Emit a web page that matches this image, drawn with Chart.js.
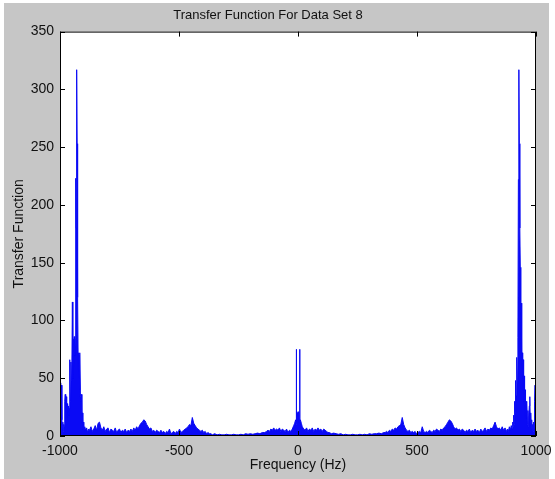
<!DOCTYPE html>
<html>
<head>
<meta charset="utf-8">
<script src="https://cdn.jsdelivr.net/npm/chart.js@4/dist/chart.umd.min.js"></script>
<style>
  html, body { margin: 0; padding: 0; background: #fff; }
  canvas { display: block; }
</style>
</head>
<body>
<canvas id="grafico" width="555" height="479"></canvas>
<script>
// datos: [frecuencia Hz, magnitud]
const picoIzq = [
  [-1000,42],[-998,46],[-996,25],[-994,44],[-992,14],[-990,6],[-988,12],[-986,4],
  [-984,10],[-982,8],[-980,30],[-978,36],[-976,20],[-974,34],[-972,15],[-970,28],
  [-968,22],[-966,26],[-964,18],[-962,24],[-960,40],[-958,66],[-956,30],[-954,64],
  [-952,48],[-950,62],[-948,116],[-946,50],[-944,84],[-942,60],[-940,86],[-938,70],
  [-936,84],[-934,223],[-932,180],[-930,317],[-928,253],[-926,120],[-924,72],[-922,55],
  [-920,70],[-918,40],[-916,72],[-914,34],[-912,30],[-910,36],[-908,12],[-906,20],
  [-904,6],[-902,12],[-900,4],[-896,8],[-892,5],[-888,7],[-884,3],[-880,6]
];
const pisoIzq = [
  [-876,5],[-870,8],[-864,4],[-858,6],[-852,9],[-846,5],[-840,11],[-834,12],[-828,7],
  [-822,5],[-816,8],[-810,4],[-804,6],[-798,7],[-792,3],[-786,6],[-780,5],[-774,4],
  [-768,7],[-762,3],[-756,5],[-750,6],[-744,3],[-738,5],[-732,4],[-726,6],[-720,3],
  [-714,5],[-708,4],[-702,6],[-696,4],[-690,7],[-684,5],[-678,8],[-672,6],[-666,9],
  [-660,11],[-654,12],[-648,14],[-642,13],[-636,10],[-630,8],[-624,6],[-618,7],[-612,4],
  [-606,5],[-600,3],[-594,5],[-588,4],[-582,3],[-576,5],[-570,3],[-564,4],[-558,2],
  [-552,4],[-546,3],[-540,6],[-534,2],[-528,3],[-522,4],[-516,2],[-510,4],[-504,3],
  [-498,6],[-492,3],[-486,4],[-480,5],[-474,6],[-468,7],[-462,8],[-456,10],[-450,9],
  [-444,16],[-438,11],[-432,9],[-426,7],[-420,6],[-414,5],[-408,4],[-402,5],[-396,3],
  [-390,4],[-384,2],[-378,3],[-372,2],[-366,2],[-360,1],[-350,2],[-340,1],[-330,1.5],
  [-320,1],[-310,1],[-300,1.5],[-290,1],[-280,1],[-270,1.5],[-260,1],[-250,1],
  [-240,1.5],[-230,1],[-220,2],[-210,1.5],[-200,2],[-190,1.5],[-180,2],[-170,2.5],
  [-160,2],[-150,3],[-140,3],[-132,4],[-126,5],[-120,4],[-114,6],[-108,5],[-102,7],
  [-96,5],[-90,6],[-84,5],[-78,7],[-72,4],[-66,6],[-60,5],[-54,4],[-48,6],[-42,3],
  [-36,5],[-30,4],[-24,6],[-18,9]
];
const centro = [
  [-14,11],[-10,14],[-8,10],[-7,75],[-6,12],[-4,20],[-2,17],[0,21],
  [2,17],[4,20],[6,12],[7,75],[8,10],[10,14],[14,11]
];
const pisoDer = [
  [18,8],[24,6],[30,5],[36,7],[42,4],[48,6],[54,5],[60,7],[66,4],[72,6],[78,5],
  [84,7],[90,5],[96,6],[102,4],[108,6],[114,5],[120,4],[126,3],[132,3],[140,2],
  [150,2.5],[160,2],[170,1.5],[180,2],[190,1],[200,1.5],[210,1],[220,1],[230,1.5],
  [240,1],[250,1],[260,1.5],[270,1],[280,1.5],[290,1],[300,2],[310,1.5],[320,2],
  [330,2],[340,2.5],[350,2],[360,3],[366,3],[372,4],[378,3],[384,5],[390,4],[396,6],
  [402,5],[408,7],[414,6],[420,8],[426,9],[432,10],[438,16],[444,10],[450,7],[456,5],
  [462,4],[468,5],[474,3],[480,4],[486,3],[492,4],[498,2],[504,3],[510,4],[516,3],
  [522,8],[528,4],[534,3],[540,4],[546,3],[552,5],[558,4],[564,3],[570,5],[576,4],
  [582,6],[588,5],[594,4],[600,6],[606,5],[612,7],[618,8],[624,10],[630,12],[636,14],
  [642,13],[648,11],[654,8],[660,6],[666,7],[672,5],[678,6],[684,4],[690,6],[696,5],
  [702,3],[708,5],[714,4],[720,6],[726,3],[732,5],[738,4],[744,6],[750,4],[756,5],
  [762,3],[768,6],[774,4],[780,5],[786,7],[792,4],[798,6],[804,5],[810,7],[816,6],
  [822,9],[828,12],[834,8],[840,6],[846,7],[852,5],[858,8],[864,5],[870,7],[876,4]
];
const picoDer = [
  [880,6],[884,4],[888,8],[892,5],[896,9],[900,6],[902,12],[904,8],[906,18],[908,10],
  [910,30],[912,20],[914,48],[916,35],[918,50],[920,68],[922,45],[924,85],[926,222],
  [928,317],[930,253],[932,180],[934,146],[936,80],[938,115],[940,60],[942,72],[944,50],
  [946,66],[948,30],[950,52],[952,25],[954,40],[956,15],[958,30],[960,20],[962,28],
  [964,10],[966,22],[968,8],[970,18],[972,26],[974,34],[976,12],[978,20],[980,6],
  [982,14],[984,5],[986,10],[988,4],[990,12],[992,6],[994,30],[996,44],[998,20],[1000,40]
];
const ticksX = [-1000, -500, 0, 500, 1000];
const ticksY = [0, 50, 100, 150, 200, 250, 300, 350];

const puntos = [...picoIzq, ...pisoIzq, ...centro, ...pisoDer, ...picoDer]
  .map(p => ({ x: p[0], y: p[1] }));

const fuente = "Arial, 'Liberation Sans', sans-serif";

// fondo gris tipo figura de MATLAB
const fondo = {
  id: 'fondo',
  beforeDraw(chart) {
    const c = chart.ctx, a = chart.chartArea;
    c.save();
    c.fillStyle = '#ffffff';
    c.fillRect(0, 0, chart.width, chart.height);
    c.fillStyle = '#c6c6c6';
    c.fillRect(4, 3, 545, 476);
    c.fillStyle = '#ffffff';
    c.fillRect(a.left, a.top, a.right - a.left, a.bottom - a.top);
    c.restore();
  }
};

// marco negro y marcas hacia adentro en los cuatro lados
const marco = {
  id: 'marco',
  afterDatasetsDraw(chart) {
    const c = chart.ctx, a = chart.chartArea;
    const sx = chart.scales.x, sy = chart.scales.y;
    const L = 5;
    c.save();
    c.strokeStyle = '#000';
    c.lineWidth = 1;
    c.strokeRect(a.left + 0.5, a.top + 0.5, a.right - a.left - 1, a.bottom - a.top - 1);
    c.beginPath();
    ticksX.forEach(v => {
      const px = Math.round(sx.getPixelForValue(v)) + 0.5;
      c.moveTo(px, a.bottom); c.lineTo(px, a.bottom - L);
      c.moveTo(px, a.top); c.lineTo(px, a.top + L);
    });
    ticksY.forEach(v => {
      const py = Math.round(sy.getPixelForValue(v)) + 0.5;
      c.moveTo(a.left, py); c.lineTo(a.left + L, py);
      c.moveTo(a.right, py); c.lineTo(a.right - L, py);
    });
    c.stroke();
    c.restore();
  }
};

new Chart(document.getElementById('grafico').getContext('2d'), {
  type: 'line',
  data: {
    datasets: [{
      data: puntos,
      borderColor: '#0a0af5',
      backgroundColor: '#0a0af5',
      borderWidth: 1,
      pointRadius: 0,
      tension: 0,
      fill: 'origin'
    }]
  },
  options: {
    responsive: false,
    animation: false,
    devicePixelRatio: 1,
    layout: { padding: { left: 0, right: 19, top: 0, bottom: 0 } },
    plugins: {
      legend: { display: false },
      tooltip: { enabled: false },
      title: {
        display: true,
        text: 'Transfer Function For Data Set 8',
        color: '#111',
        font: { family: fuente, size: 13, weight: 'normal' },
        padding: { top: 8, bottom: 8 }
      }
    },
    scales: {
      x: {
        type: 'linear',
        min: -1000,
        max: 1000,
        afterBuildTicks: s => { s.ticks = ticksX.map(v => ({ value: v })); },
        afterFit: s => { s.height = 43; s.paddingLeft = 0; s.paddingRight = 0; },
        grid: { display: false, drawTicks: false },
        border: { display: false },
        ticks: {
          color: '#111', font: { family: fuente, size: 14 }, padding: 7,
          maxRotation: 0, autoSkip: false, callback: v => String(v)
        },
        title: {
          display: true,
          text: 'Frequency (Hz)',
          color: '#111',
          font: { family: fuente, size: 14 },
          padding: { top: 0, bottom: 5 }
        }
      },
      y: {
        min: 0,
        max: 350,
        afterBuildTicks: s => { s.ticks = ticksY.map(v => ({ value: v })); },
        afterFit: s => { s.width = 60; s.paddingTop = 0; s.paddingBottom = 0; },
        grid: { display: false, drawTicks: false },
        border: { display: false },
        ticks: { color: '#111', font: { family: fuente, size: 14 }, padding: 6, callback: v => String(v) },
        title: {
          display: true,
          text: 'Transfer Function',
          color: '#111',
          font: { family: fuente, size: 14 },
          padding: { top: 11, bottom: 0 }
        }
      }
    }
  },
  plugins: [fondo, marco]
});
</script>
</body>
</html>
